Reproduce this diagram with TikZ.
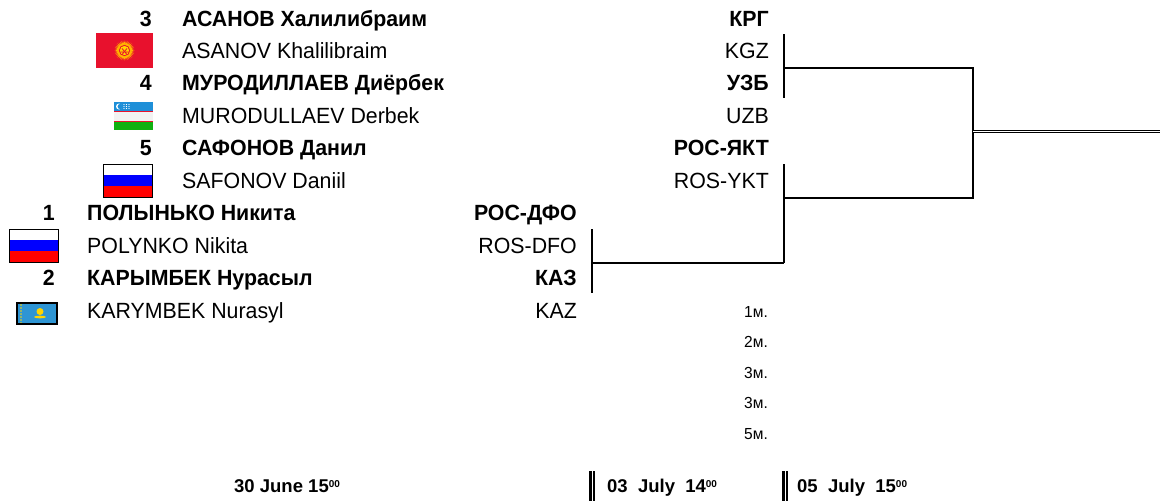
\documentclass[tikz,border=0pt]{standalone}
\usepackage{fontspec}
\setmainfont{Liberation Sans}[FakeStretch=0.97]
\newfontfamily\datefont{Liberation Sans}
\newcommand\hrs[1]{\raisebox{5pt}{\fontsize{10}{11}\selectfont #1}}
\definecolor{rured}{HTML}{FF0000}
\definecolor{rublue}{HTML}{0000FF}
\definecolor{kgred}{HTML}{E8112D}
\definecolor{kgsun}{HTML}{FFB300}
\definecolor{uzblue}{HTML}{1E8FD8}
\definecolor{uzgreen}{HTML}{10B010}
\definecolor{kzblue}{HTML}{2E95D3}
\definecolor{kzgold}{HTML}{FFD500}
\begin{document}
\begin{tikzpicture}[x=1pt, y=-1pt,
    big/.style={inner sep=0pt, font=\fontsize{22}{26}\selectfont},
    seed/.style={big, anchor=base east, font=\fontsize{22}{26}\selectfont\bfseries},
    cyrname/.style={big, anchor=base west, font=\fontsize{22}{26}\selectfont\bfseries},
    latname/.style={big, anchor=base west},
    ctry/.style={big, anchor=base east, font=\fontsize{22}{26}\selectfont\bfseries},
    latctry/.style={big, anchor=base east},
    rank/.style={inner sep=0pt, anchor=base east, font=\fontsize{16}{18}\selectfont},
    day/.style={inner sep=0pt, anchor=base west, font=\datefont\fontsize{18.5}{22}\selectfont\bfseries},
    bracket/.style={line width=2.1pt},
    bar/.style={double, line width=2.2pt, double distance=1pt}]
\useasboundingbox (0,0) rectangle (1160,501);

% players
\foreach \s/\y/\xs/\xn/\xc/\cyr/\lat/\cc/\lc in {
    3/26/152/182/769/{АСАНОВ Халилибраим}/{ASANOV Khalilibraim}/КРГ/KGZ,
    4/90.5/152/182/769/{МУРОДИЛЛАЕВ Диёрбек}/{MURODULLAEV Derbek}/УЗБ/UZB,
    5/155.5/152/182/769/{САФОНОВ Данил}/{SAFONOV Daniil}/РОС-ЯКТ/ROS-YKT,
    1/220.5/55/87/577/{ПОЛЫНЬКО Никита}/{POLYNKO Nikita}/РОС-ДФО/ROS-DFO,
    2/285.5/55/87/577/{КАРЫМБЕК Нурасыл}/{KARYMBEK Nurasyl}/КАЗ/KAZ}{
  \node[seed] (s\s) at (\xs,\y) {\s};
  \node[cyrname] (c\s) at (\xn,\y) {\cyr};
  \node[latname] (l\s) at (\xn,\y+32.5) {\lat};
  \node[ctry] (k\s) at (\xc,\y) {\cc};
  \node[latctry] (kl\s) at (\xc,\y+32.5) {\lc};
}

% flags
\begin{scope}[shift={(96,33)}]
  \fill[kgred] (0,0) rectangle (57,35);
  \begin{scope}[shift={(28.5,17.5)}]
    \fill[kgsun] (0:10) \foreach \i in {1,...,39}{ -- ({\i*9-4.5}:6.5) -- ({\i*9}:10) } -- (355.5:6.5) -- cycle;
    \fill[kgred] (0,0) circle (5.6);
    \fill[kzgold] (0,0) circle (4.6);
    \draw[kgred, line width=0.8pt] (-4,1.5) -- (4,1.5) (-2.5,-2) -- (2.5,4) (2.5,-2) -- (-2.5,4);
  \end{scope}
\end{scope}
\begin{scope}[shift={(114,102)}]
  \fill[uzblue] (0,0) rectangle (39,9);
  \fill[kgred] (0,9) rectangle (39,10);
  \fill[white!95!black] (0,10) rectangle (39,18.5);
  \fill[kgred] (0,18.5) rectangle (39,19.5);
  \fill[uzgreen] (0,19.5) rectangle (39,28);
  \fill[white] (5,4.5) circle (3);
  \fill[uzblue] (6.2,4.5) circle (2.6);
  \foreach \i in {10,12.5,15} \foreach \j in {2.5,4.5,6.5} \fill[white] (\i,\j) circle (0.6);
\end{scope}
\foreach \fx/\fy in {103/164, 9/229}{
  \begin{scope}[shift={(\fx,\fy)}]
    \fill[white] (0,0) rectangle (49,11);
    \fill[rublue] (0,11) rectangle (49,22);
    \fill[rured] (0,22) rectangle (49,33);
    \draw[line width=1pt] (0,0) rectangle (49,33);
  \end{scope}
}
\begin{scope}[shift={(17,303)}]
  \fill[kzblue] (0,0) rectangle (40,21);
  \foreach \j in {2,5,...,20} \fill[kzgold] (4,\j) circle (0.9);
  \fill[kzgold] (23,8.5) circle (3.5);
  \fill[kzgold] (23,14) ellipse (6 and 1.3);
  \draw[line width=1.2pt] (0,0) rectangle (40,21);
\end{scope}

% brackets
\coordinate (a1) at (784,34);
\coordinate (a2) at (784,98);
\coordinate (am) at (784,68);
\coordinate (fm) at (973,68);
\coordinate (fb) at (973,198);
\coordinate (bm) at (784,198);
\coordinate (b1) at (784,164);
\coordinate (b2) at (784,263);
\coordinate (d1) at (592,229);
\coordinate (d2) at (592,293);
\coordinate (dm) at (592,263);
\coordinate (fo) at (973,131.5);
\coordinate (end) at (1160,131.5);
\draw[bracket] (a1) -- (a2);
\draw[bracket] (b1) -- (b2);
\draw[bracket] (d1) -- (d2);
\draw[bracket] (dm) -- (b2);
\draw[bracket] (am) -- (fm) -- (fb) -- (bm);
\draw[line width=1.2pt, double, double distance=1.5pt] (fo) -- (end);

% places
\foreach \p/\y [count=\i] in {1/317, 2/347.5, 3/378, 3/408.5, 5/439}
  \node[rank] (pl\i) at (768,\y) {\p м.};

% dates
\node[day] (day1) at (234,492.5) {30 June 15\hrs{00}};
\draw[bar] (592,471) -- (592,501);
\node[day] (day2) at (607,492.5) {03\ \ July\ \ 14\hrs{00}};
\draw[bar] (785,471) -- (785,501);
\node[day] (day3) at (797,492.5) {05\ \ July\ \ 15\hrs{00}};
\end{tikzpicture}
\end{document}
